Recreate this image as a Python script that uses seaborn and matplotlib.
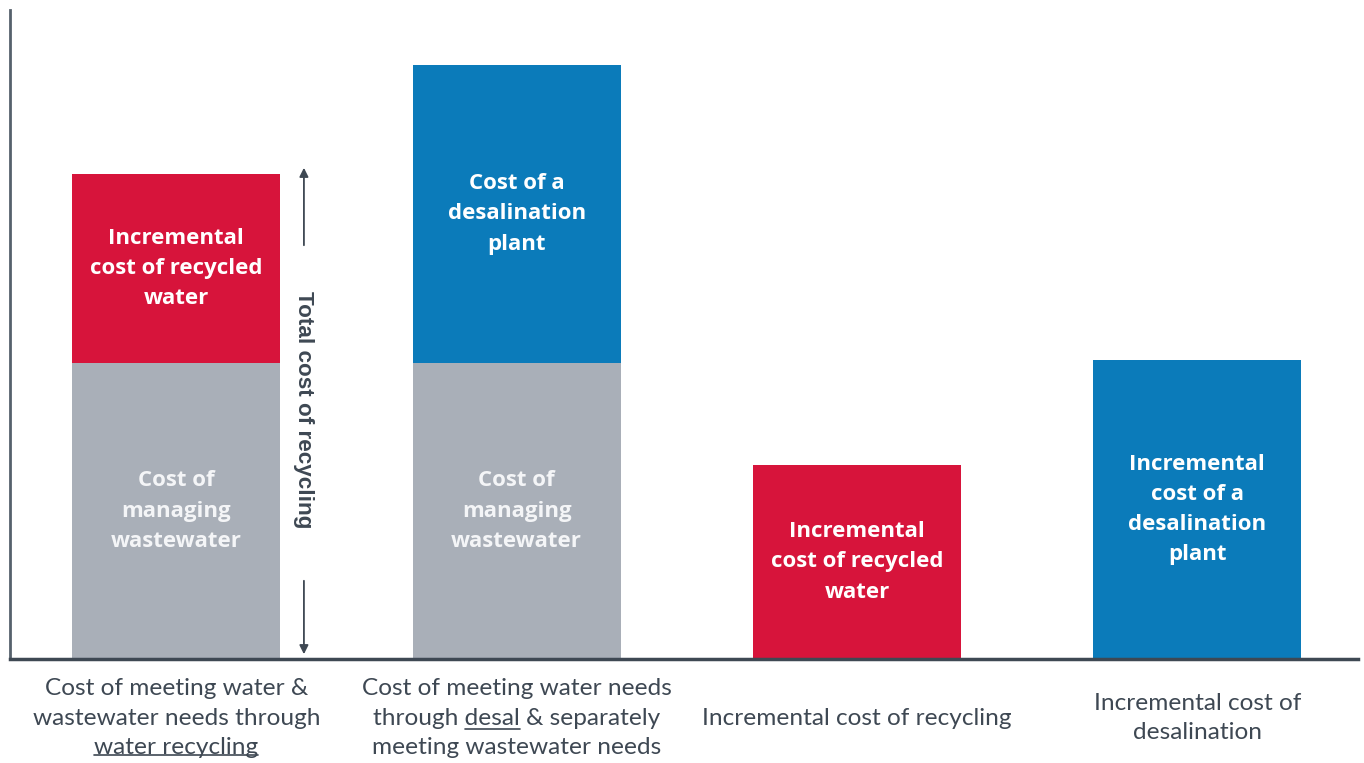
import matplotlib
matplotlib.use("Agg")
import matplotlib.pyplot as plt
import seaborn as sns
import pandas as pd
from matplotlib.lines import Line2D

# ---- data ----
categories = ["recycling_total", "desal_total", "incr_recycling", "incr_desal"]
tick_labels = [
    "Cost of meeting water &\nwastewater needs through\nwater recycling",
    "Cost of meeting water needs\nthrough desal & separately\nmeeting wastewater needs",
    "Incremental cost of recycling",
    "Incremental cost of\ndesalination",
]
wastewater_cost = [296, 296, 0, 0]
incremental_cost = [189, 298, 194, 299]
incremental_kind = ["recycled", "desal", "recycled", "desal"]
top_segment_labels = [
    "Incremental\ncost of recycled\nwater",
    "Cost of a\ndesalination\nplant",
    "Incremental\ncost of recycled\nwater",
    "Incremental\ncost of a\ndesalination\nplant",
]
base_segment_labels = ["Cost of\nmanaging\nwastewater", "Cost of\nmanaging\nwastewater", "", ""]
bracket_label = "Total cost of recycling"

# ---- style ----
RED = "#D7143B"
BLUE = "#0B7BBA"
GREY = "#A9AFB8"
AXIS = "#3E4853"
TEXT = "#3E4853"

sns.set_theme(style="white")
plt.rcParams["font.family"] = ["Open Sans", "DejaVu Sans"]

df = pd.DataFrame({
    "category": categories,
    "base": wastewater_cost,
    "incr": incremental_cost,
    "kind": incremental_kind,
})
df["total"] = df["base"] + df["incr"]

fig = plt.figure(figsize=(13.64, 7.63), dpi=100)
ax = fig.add_axes([10 / 1364, 104 / 763, 1348 / 1364, 649 / 763])

sns.barplot(data=df, x="category", y="total", hue="kind", order=categories,
            palette={"recycled": RED, "desal": BLUE}, width=0.611, dodge=False,
            saturation=1, legend=False, linewidth=0, ax=ax)
sns.barplot(data=df, x="category", y="base", order=categories, color=GREY,
            width=0.611, saturation=1, linewidth=0, ax=ax)

ax.set_xlim(-0.4887, 3.4725)
ax.set_ylim(0, 649)
ax.set_xlabel("")
ax.set_ylabel("")
ax.set_yticks([])
for s in ["top", "right"]:
    ax.spines[s].set_visible(False)
ax.spines["left"].set_color("#56616C")
ax.spines["left"].set_linewidth(2)
ax.spines["bottom"].set_color(AXIS)
ax.spines["bottom"].set_linewidth(2.5)

ax.set_xticks(range(len(categories)))
ax.set_xticklabels(tick_labels, fontsize=17.6, color=TEXT, linespacing=1.5,
                   family=["Lato", "DejaVu Sans"])
ax.tick_params(axis="x", length=0, pad=42.5)
for lab in ax.get_xticklabels():
    lab.set_verticalalignment("center")

# segment labels
for i in range(len(categories)):
    b = wastewater_cost[i]
    t = b + incremental_cost[i]
    ax.text(i, (b + t) / 2, top_segment_labels[i], ha="center", va="center",
            color="white", fontsize=16, fontweight="bold", linespacing=1.57)
    if base_segment_labels[i]:
        ax.text(i, b / 2, base_segment_labels[i], ha="center", va="center",
                color="#F4F5F7", fontsize=16, fontweight="bold", linespacing=1.57)

# bracket arrows & text
bx = 0.375
ax.annotate("", xy=(bx, 494), xytext=(bx, 411),
            arrowprops=dict(arrowstyle="-|>", color=AXIS, lw=1.3, mutation_scale=13))
ax.annotate("", xy=(bx, 2), xytext=(bx, 81),
            arrowprops=dict(arrowstyle="-|>", color=AXIS, lw=1.3, mutation_scale=13))
ax.text(bx, 249, bracket_label, rotation=-90, ha="center", va="center",
        color=AXIS, fontsize=16.2, fontweight="bold",
        family=["Liberation Sans", "DejaVu Sans"])

# underlines for "water recycling" and "desal"
fig.canvas.draw()
renderer = fig.canvas.get_renderer()
labels = ax.get_xticklabels()


def text_width(s, ref):
    t = fig.text(0, 0, s, fontproperties=ref.get_fontproperties())
    w = t.get_window_extent(renderer).width
    t.remove()
    return w


def underline(label, line_idx, prefix, word):
    bb = label.get_window_extent(renderer)
    lines = label.get_text().split("\n")
    n = len(lines)
    lh = bb.height / n
    line = lines[line_idx]
    W = text_width(line, label)
    cx = (bb.x0 + bb.x1) / 2
    x0 = cx - W / 2 + (text_width(prefix, label) if prefix else 0)
    x1 = x0 + text_width(word, label)
    y = bb.y1 - (line_idx + 1) * lh + lh * 0.10
    fw, fh = fig.get_size_inches() * fig.dpi
    fig.add_artist(Line2D([x0 / fw, x1 / fw], [y / fh, y / fh], color=TEXT, lw=1.2))


underline(labels[0], 2, "", "water recycling")
underline(labels[1], 1, "through ", "desal")

fig.savefig("out.png", dpi=100)
